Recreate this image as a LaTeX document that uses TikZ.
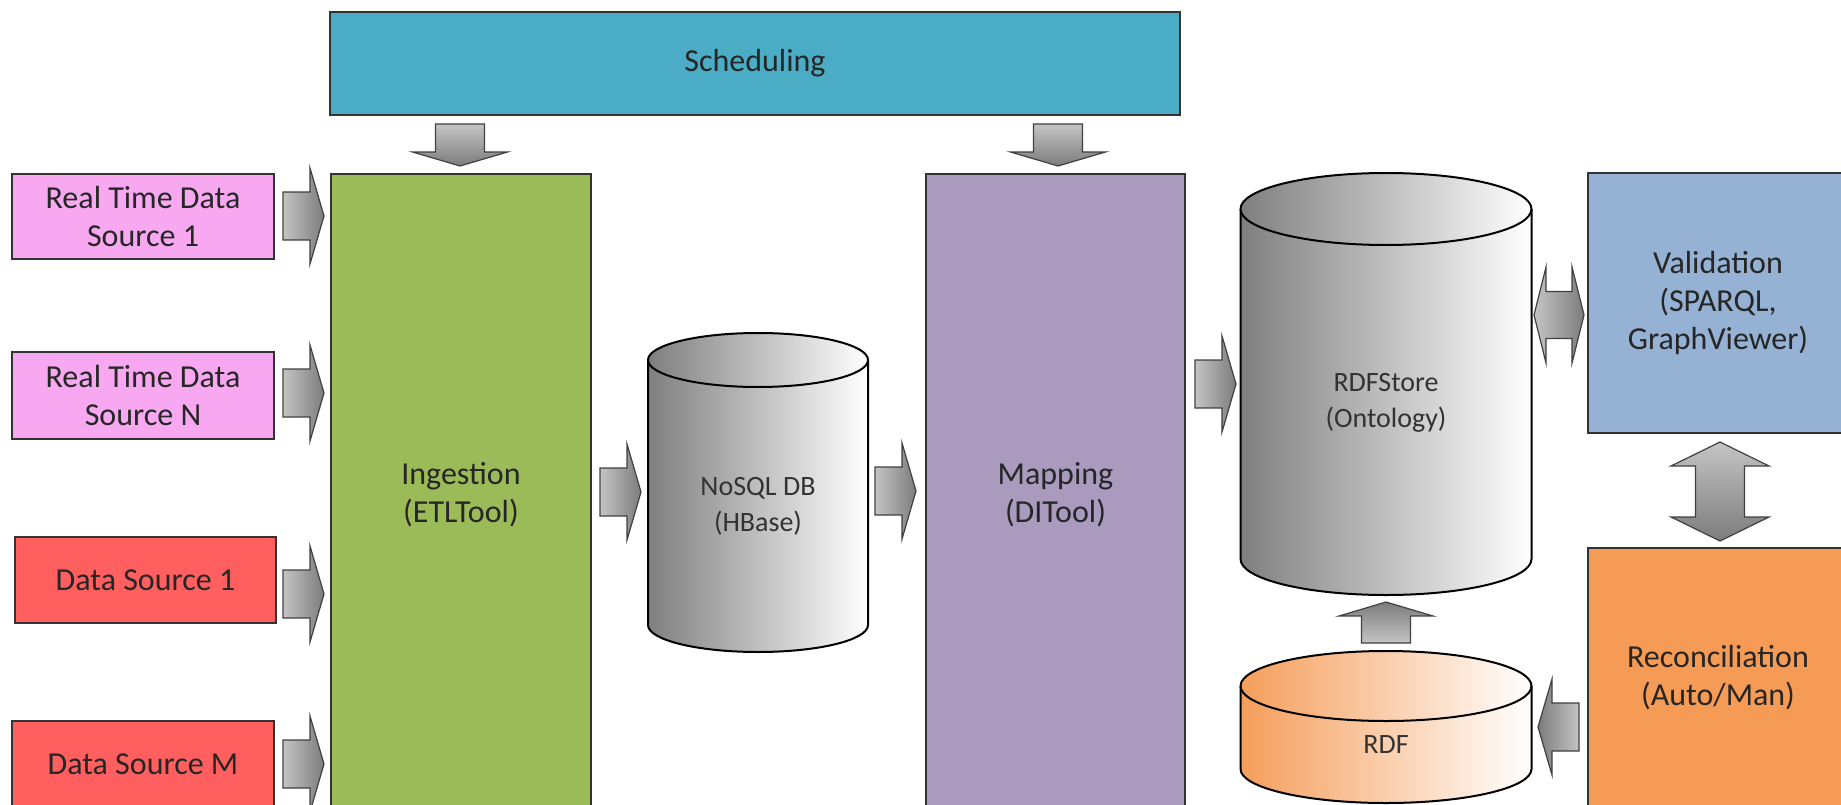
\documentclass[tikz,border=0pt]{standalone}
\usepackage{fontspec}
\setmainfont{Carlito}
\usepackage{xcolor}
\usepackage{tikz}
\usetikzlibrary{calc}

% Box colours
\definecolor{schedblue}{HTML}{4BACC6}
\definecolor{ingreen}{HTML}{9BBB59}
\definecolor{mappurple}{HTML}{A99ABE}
\definecolor{valblue}{HTML}{95B1D3}
\definecolor{recorange}{HTML}{F69B55}
\definecolor{rtpink}{HTML}{F7A8F0}
\definecolor{dsred}{HTML}{FF5F5F}
\definecolor{rdforange}{HTML}{F59E5B}
\definecolor{cylgrey}{HTML}{7F7F7F}
\definecolor{arrlight}{HTML}{C4C4C4}
\definecolor{arrdark}{HTML}{7C7C7C}

\tikzset{
  box/.style={draw=black!80, line width=1.5pt, inner sep=0pt, align=center,
    text=black!85, font=\fontsize{32}{38}\selectfont},
  cyl/.style={draw=black, line width=2pt},
  cyltext/.style={align=center, text=black!80, font=\fontsize{28}{36}\selectfont},
  blk/.style={draw=black!75, line width=1.2pt, line join=miter},
  % block arrows, origin at the tail or tip centre
  pics/rarrow/.style={code={
    \draw[blk, left color=arrlight, right color=arrdark]
      (0,-24) -- (27,-24) -- (27,-48) -- (41,0) -- (27,48) -- (27,24) -- (0,24) -- cycle;}},
  pics/larrow/.style={code={
    \draw[blk, left color=arrdark, right color=arrlight]
      (0,0) -- (14,-48) -- (14,-24) -- (41,-24) -- (41,24) -- (14,24) -- (14,48) -- cycle;}},
  pics/darrow/.style={code={
    \draw[blk, top color=arrlight, bottom color=arrdark]
      (-24.5,0) -- (24.5,0) -- (24.5,28) -- (47.5,28) -- (0,42) -- (-47.5,28) -- (-24.5,28) -- cycle;}},
  pics/uarrow/.style={code={
    \draw[blk, top color=arrdark, bottom color=arrlight]
      (0,0) -- (47,14) -- (24.5,14) -- (24.5,41) -- (-24.5,41) -- (-24.5,14) -- (-47,14) -- cycle;}},
  pics/hdarrow/.style={code={
    \draw[blk, left color=arrlight, right color=arrdark]
      (0,0) -- (12,-48) -- (12,-23.5) -- (38,-23.5) -- (38,-48) -- (50,0)
      -- (38,48) -- (38,23.5) -- (12,23.5) -- (12,48) -- cycle;}},
  pics/vdarrow/.style={code={
    \draw[blk, top color=arrlight, bottom color=arrdark]
      (0,0) -- (49,24) -- (24.5,24) -- (24.5,75) -- (49,75) -- (0,99)
      -- (-49,75) -- (-24.5,75) -- (-24.5,24) -- (-49,24) -- cycle;}},
}

\begin{document}
\begin{tikzpicture}[x=1pt, y=-1pt]
    \useasboundingbox (0,0) rectangle (1841,805);
    \clip (0,0) rectangle (1841,805);

    % Top bar
    \node[box, fill=schedblue, minimum width=850pt, minimum height=103pt] (sched) at (755,63.5) {Scheduling};

    % Sources
    \node[box, fill=rtpink, minimum width=262pt, minimum height=85pt] (rt1) at (143,216.5) {Real Time Data\\Source 1};
    \node[box, fill=rtpink, minimum width=262pt, minimum height=87pt] (rtn) at (143,395.5) {Real Time Data\\Source N};
    \node[box, fill=dsred, minimum width=261pt, minimum height=86pt] (ds1) at (145.5,580) {Data Source 1};
    \node[box, fill=dsred, minimum width=262pt, minimum height=87pt] (dsm) at (143,764.5) {Data Source M};

    % Tools
    \node[box, fill=ingreen, minimum width=260pt, minimum height=641pt] (ingest) at (461,494.5) {Ingestion\\(ETLTool)};
    \node[box, fill=mappurple, minimum width=259pt, minimum height=641pt] (mapping) at (1055.5,494.5) {Mapping\\(DITool)};
    \node[box, fill=valblue, minimum width=260pt, minimum height=260pt] (valid) at (1718,303) {Validation\\(SPARQL,\\GraphViewer)};
    \node[box, fill=recorange, minimum width=260pt, minimum height=260pt] (recon) at (1718,678) {Reconciliation\\(Auto/Man)};

    % NoSQL store
    \draw[cyl, left color=cylgrey, right color=white] (648,360) -- (648,625) arc (180:0:110 and 27) -- (868,360) arc (0:-180:110 and 27) -- cycle;
    \draw[cyl] (648,360) arc (180:0:110 and 27);
    \node[cyltext] (nosql) at (758,506) {NoSQL DB\\(HBase)};

    % RDF store
    \draw[cyl, left color=cylgrey, right color=white] (1240.5,209) -- (1240.5,559) arc (180:0:145.5 and 36) -- (1531.5,209) arc (0:-180:145.5 and 36) -- cycle;
    \draw[cyl] (1240.5,209) arc (180:0:145.5 and 36);
    \node[cyltext] (store) at (1386,403) {RDFStore\\(Ontology)};

    % RDF dump
    \draw[cyl, left color=rdforange, right color=white] (1240.5,686) -- (1240.5,769) arc (180:0:145.5 and 34) -- (1531.5,686) arc (0:-180:145.5 and 35) -- cycle;
    \draw[cyl] (1240.5,686) arc (180:0:145.5 and 35);
    \node[cyltext] (rdf) at (1386,745) {RDF};

    % Arrows
    \pic at (460,124) {darrow};
    \pic at (1058,124) {darrow};
    \foreach \y in {216,393,594,764}
        \pic at (283,\y) {rarrow};
    \pic at (600,492) {rarrow};
    \pic at (875,491) {rarrow};
    \pic at (1195,384) {rarrow};
    \pic at (1534,315) {hdarrow};
    \pic at (1720,442) {vdarrow};
    \pic at (1386,602) {uarrow};
    \pic at (1538,727) {larrow};
\end{tikzpicture}
\end{document}
